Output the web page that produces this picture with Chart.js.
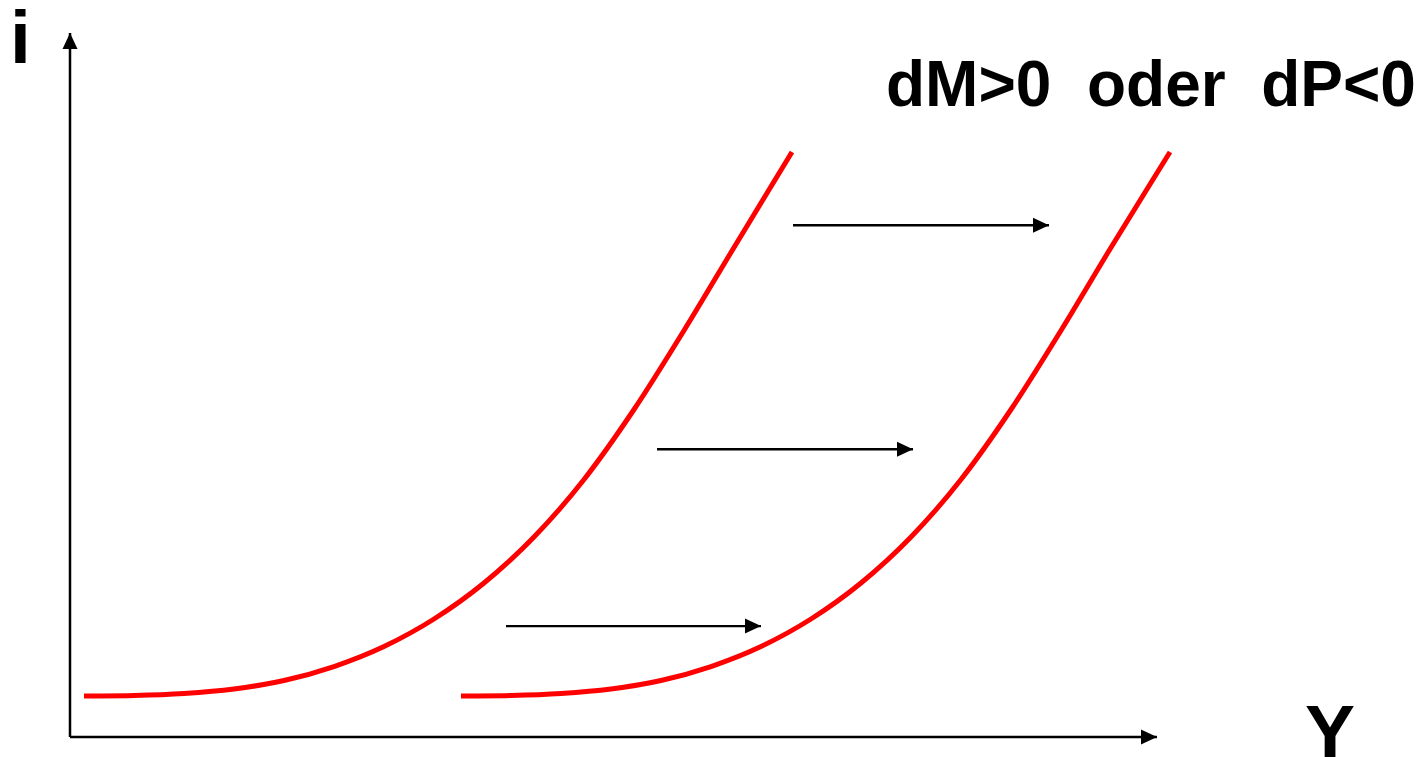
<!DOCTYPE html>
<html>
<head>
<meta charset="utf-8">
<script src="https://cdn.jsdelivr.net/npm/chart.js@4/dist/chart.umd.min.js"></script>
<style>
  body { margin: 0; background: #fff; }
  canvas { display: block; }
</style>
</head>
<body>
<canvas id="lmChart" width="1420" height="757"></canvas>
<script>
// LM curve before and after the shift (Y on x, i on y)
const lmOldY = [1.4, 6.4, 11.4, 16.4, 21.4, 26.4, 31.4, 36.4, 41.4, 46.4, 51.4, 56.4, 61.4, 66.4, 72.2];
const lmNewY = [39.1, 44.1, 49.1, 54.1, 59.1, 64.1, 69.1, 74.1, 79.1, 84.1, 89.1, 94.1, 99.1, 104.1, 110];
const lmI = [5.84, 5.91, 6.2, 6.84, 8.05, 10.04, 12.89, 16.81, 21.94, 28.49, 36.68, 46.65, 57.91, 69.73, 83.33];

// shift arrows: [from Y, to Y, at i]
const shiftArrows = [
  [72.3, 97.9, 72.9],
  [58.7, 84.3, 41.0],
  [43.6, 69.1, 15.8]
];

// axis ends
const yAxisTip = 100.3;
const xAxisTip = 108.7;

const axisLabelY = 'i';
const axisLabelX = 'Y';
const shiftLabel = 'dM>0  oder  dP<0';

const toPoints = (xs, ys) => xs.map((x, k) => ({ x: x, y: ys[k] }));

const datasets = [
  {
    data: toPoints(lmOldY, lmI),
    borderColor: '#ff0000',
    borderWidth: 5,
    cubicInterpolationMode: 'monotone'
  },
  {
    data: toPoints(lmNewY, lmI),
    borderColor: '#ff0000',
    borderWidth: 5,
    cubicInterpolationMode: 'monotone'
  },
  // axes
  { data: [{ x: 0, y: 0 }, { x: 0, y: yAxisTip }], borderColor: '#000', borderWidth: 2.5, arrow: true },
  { data: [{ x: 0, y: 0 }, { x: xAxisTip, y: 0 }], borderColor: '#000', borderWidth: 2.5, arrow: true }
];

shiftArrows.forEach(a => {
  datasets.push({
    data: [{ x: a[0], y: a[2] }, { x: a[1], y: a[2] }],
    borderColor: '#000',
    borderWidth: 2.4,
    arrow: true
  });
});

// draws arrow heads at the end of the marked lines, plus the text
const arrowsAndText = {
  id: 'arrowsAndText',
  afterDatasetsDraw(chart) {
    const ctx = chart.ctx;
    const xs = chart.scales.x;
    const ys = chart.scales.y;
    const headLen = 16;
    const headHalf = 7.5;

    ctx.save();
    chart.data.datasets.forEach(ds => {
      if (!ds.arrow) return;
      const p0 = ds.data[0];
      const p1 = ds.data[ds.data.length - 1];
      const x0 = xs.getPixelForValue(p0.x), y0 = ys.getPixelForValue(p0.y);
      const x1 = xs.getPixelForValue(p1.x), y1 = ys.getPixelForValue(p1.y);
      const ang = Math.atan2(y1 - y0, x1 - x0);
      ctx.fillStyle = '#000';
      ctx.beginPath();
      ctx.moveTo(x1, y1);
      ctx.lineTo(x1 - headLen * Math.cos(ang) + headHalf * Math.sin(ang),
                 y1 - headLen * Math.sin(ang) - headHalf * Math.cos(ang));
      ctx.lineTo(x1 - headLen * Math.cos(ang) - headHalf * Math.sin(ang),
                 y1 - headLen * Math.sin(ang) + headHalf * Math.cos(ang));
      ctx.closePath();
      ctx.fill();
    });

    ctx.fillStyle = '#000';
    ctx.textBaseline = 'alphabetic';
    ctx.textAlign = 'left';
    ctx.font = 'bold 75px "Liberation Sans", Arial, sans-serif';
    ctx.fillText(axisLabelY, 10, 63);
    ctx.fillText(axisLabelX, 1305, 757);
    ctx.font = 'bold 64px "Liberation Sans", Arial, sans-serif';
    ctx.fillText(shiftLabel, 886, 106);
    ctx.restore();
  }
};

const ctx = document.getElementById('lmChart').getContext('2d');

new Chart(ctx, {
  type: 'scatter',
  data: { datasets: datasets },
  options: {
    responsive: false,
    animation: false,
    showLine: true,
    clip: false,
    layout: { padding: { left: 70, right: 230, top: 35, bottom: 20 } },
    elements: {
      point: { radius: 0, hoverRadius: 0 },
      line: { borderCapStyle: 'butt', fill: false }
    },
    plugins: {
      legend: { display: false },
      tooltip: { enabled: false }
    },
    scales: {
      x: { type: 'linear', min: 0, max: 112, display: false },
      y: { type: 'linear', min: 0, max: 100, display: false }
    }
  },
  plugins: [arrowsAndText]
});
</script>
</body>
</html>
